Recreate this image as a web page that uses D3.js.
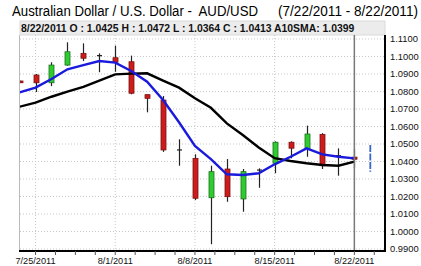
<!DOCTYPE html>
<html>
<head>
<meta charset="utf-8">
<script src="https://cdn.jsdelivr.net/npm/d3@7"></script>
<style>
  body { margin: 0; background: #fff; }
  svg { display: block; font-family: "Liberation Sans", Arial, sans-serif; }
  text { white-space: pre; }
</style>
</head>
<body>
<script>
const width = 421;
const height = 266;

// trading days, 7/22 .. 8/23 (last one only has the blue marker)
const dates = ["7/22/2011", "7/25/2011", "7/26/2011", "7/27/2011", "7/28/2011", "7/29/2011",
  "8/1/2011", "8/2/2011", "8/3/2011", "8/4/2011", "8/5/2011",
  "8/8/2011", "8/9/2011", "8/10/2011", "8/11/2011", "8/12/2011",
  "8/15/2011", "8/16/2011", "8/17/2011", "8/18/2011", "8/19/2011",
  "8/22/2011", "8/23/2011"];

const opens  = [1.0860, 1.0894, 1.0850, 1.0951, 1.1018, 1.1005, 1.0993, 1.0970, 1.0782, 1.0751, 1.0466,
  1.0418, 1.0193, 1.0357, 1.0186, 1.0351, 1.0390, 1.0510, 1.0475, 1.0555, 1.0433, 1.0425];
const highs  = [1.0862, 1.0900, 1.0967, 1.1081, 1.1075, 1.1018, 1.1062, 1.1005, 1.0782, 1.0774, 1.0527,
  1.0441, 1.0376, 1.0414, 1.0357, 1.0361, 1.0515, 1.0515, 1.0605, 1.0562, 1.0475, 1.0472];
const lows   = [1.0848, 1.0797, 1.0831, 1.0947, 1.0974, 1.0910, 1.0913, 1.0784, 1.0681, 1.0455, 1.0376,
  1.0180, 0.9927, 1.0170, 1.0113, 1.0250, 1.0333, 1.0418, 1.0427, 1.0357, 1.0319, 1.0364];
const closes = [1.0850, 1.0850, 1.0951, 1.1027, 1.0990, 1.1005, 1.0967, 1.0790, 1.0761, 1.0466, 1.0466,
  1.0190, 1.0342, 1.0199, 1.0342, 1.0351, 1.0510, 1.0476, 1.0557, 1.0376, 1.0433, 1.0413];

// moving averages
const smaBlack = [1.0713, 1.0736, 1.0770, 1.0799, 1.0827, 1.0862, 1.0898, 1.0902, 1.0904, 1.0862, 1.0822,
  1.0761, 1.0707, 1.0618, 1.0551, 1.0480, 1.0419, 1.0403, 1.0390, 1.0380, 1.0376, 1.0399];
const smaBlue  = [1.0795, 1.0822, 1.0871, 1.0927, 1.0951, 1.0974, 1.0965, 1.0917, 1.0856, 1.0751, 1.0624,
  1.0489, 1.0414, 1.0327, 1.0323, 1.0333, 1.0384, 1.0427, 1.0475, 1.0441, 1.0427, 1.0418];

// marker shown after the last bar
const nextRange = [1.0341, 1.0494];

const yTicks = [0.99, 1.00, 1.01, 1.02, 1.03, 1.04, 1.05, 1.06, 1.07, 1.08, 1.09, 1.10, 1.11];
const labelDays = ["7/25/2011", "8/1/2011", "8/8/2011", "8/15/2011", "8/22/2011"];

const bars = opens.map((o, i) => ({ i, o, h: highs[i], l: lows[i], c: closes[i] }));

const x = d3.scaleLinear()
  .domain([0, dates.length - 1])
  .range([19.6, 370.3]);

const y = d3.scaleLinear()
  .domain([0.99, 1.11])
  .range([249, 39]);

const plotLeft = 20, plotRight = 385, plotTop = 35, plotBottom = 251;

const svg = d3.select("body")
  .append("svg")
  .attr("width", width)
  .attr("height", height);

// title
svg.append("text")
  .attr("x", 12)
  .attr("y", 16)
  .attr("font-size", 14)
  .attr("fill", "#000")
  .attr("textLength", 246)
  .attr("lengthAdjust", "spacingAndGlyphs")
  .text("Australian Dollar / U.S. Dollar -  AUD/USD");

svg.append("text")
  .attr("x", 278)
  .attr("y", 16)
  .attr("font-size", 14)
  .attr("fill", "#000")
  .attr("textLength", 140)
  .attr("lengthAdjust", "spacingAndGlyphs")
  .text("(7/22/2011 - 8/22/2011)");

// info strip
svg.append("rect")
  .attr("x", plotLeft)
  .attr("y", 21)
  .attr("width", plotRight - plotLeft)
  .attr("height", 14)
  .attr("fill", "#ececec")
  .attr("stroke", "#dadada");

const last = bars.length - 1;
svg.append("text")
  .attr("x", 21)
  .attr("y", 31.5)
  .attr("font-size", 10.4)
  .attr("font-weight", "bold")
  .attr("fill", "#111")
  .text(`${dates[last]} O : ${opens[last].toFixed(4)} H : ${highs[last].toFixed(4)} L : ${lows[last].toFixed(4)} C : ${closes[last].toFixed(4)} A10SMA: ${smaBlack[last].toFixed(4)}`);

// grid
svg.append("g")
  .selectAll("line")
  .data(yTicks)
  .join("line")
  .attr("x1", plotLeft)
  .attr("x2", plotRight)
  .attr("y1", d => y(d))
  .attr("y2", d => y(d))
  .attr("stroke", "#c8c8c8")
  .attr("stroke-dasharray", "1,2");

svg.append("g")
  .selectAll("line")
  .data(labelDays)
  .join("line")
  .attr("x1", d => x(dates.indexOf(d)))
  .attr("x2", d => x(dates.indexOf(d)))
  .attr("y1", plotTop)
  .attr("y2", plotBottom)
  .attr("stroke", "#c8c8c8")
  .attr("stroke-dasharray", "1,2");

svg.append("line")
  .attr("x1", 19.5).attr("x2", 19.5)
  .attr("y1", plotTop).attr("y2", plotBottom)
  .attr("stroke", "#bbb");

svg.append("clipPath")
  .attr("id", "plot")
  .append("rect")
  .attr("x", plotLeft)
  .attr("y", plotTop)
  .attr("width", plotRight - plotLeft)
  .attr("height", plotBottom - plotTop);

const plot = svg.append("g").attr("clip-path", "url(#plot)");

// candles
const candle = plot.append("g")
  .selectAll("g")
  .data(bars)
  .join("g");

candle.append("line")
  .attr("x1", d => Math.round(x(d.i)) + 0.5)
  .attr("x2", d => Math.round(x(d.i)) + 0.5)
  .attr("y1", d => y(d.h))
  .attr("y2", d => y(d.l))
  .attr("stroke", "#222")
  .attr("stroke-width", 1.2);

candle.filter(d => d.o !== d.c)
  .append("rect")
  .attr("x", d => Math.round(x(d.i)) - 2)
  .attr("y", d => y(Math.max(d.o, d.c)))
  .attr("width", 5)
  .attr("height", d => Math.max(1.5, Math.abs(y(d.o) - y(d.c))))
  .attr("fill", d => d.c > d.o ? "#2fcc2f" : "#cc1c1c")
  .attr("stroke", d => d.c > d.o ? "#1d6e1d" : "#7c1212")
  .attr("stroke-width", 0.8);

candle.filter(d => d.o === d.c)
  .append("line")
  .attr("x1", d => Math.round(x(d.i)) - 2)
  .attr("x2", d => Math.round(x(d.i)) + 3)
  .attr("y1", d => y(d.o))
  .attr("y2", d => y(d.o))
  .attr("stroke", "#222")
  .attr("stroke-width", 1.2);

// moving average lines
const line = d3.line()
  .x((d, i) => x(i))
  .y(d => y(d));

plot.append("path")
  .datum(smaBlack)
  .attr("fill", "none")
  .attr("stroke", "#000")
  .attr("stroke-width", 2.4)
  .attr("d", line);

plot.append("path")
  .datum(smaBlue)
  .attr("fill", "none")
  .attr("stroke", "#1a1adc")
  .attr("stroke-width", 2.4)
  .attr("d", line);

// cursor on the last bar
svg.append("line")
  .attr("x1", x(last))
  .attr("x2", x(last))
  .attr("y1", plotTop)
  .attr("y2", plotBottom)
  .attr("stroke", "#7a7a7a")
  .attr("stroke-width", 1.5);

// next-day marker
svg.append("line")
  .attr("x1", x(dates.length - 1))
  .attr("x2", x(dates.length - 1))
  .attr("y1", y(nextRange[1]))
  .attr("y2", y(nextRange[0]))
  .attr("stroke", "#3a66cc")
  .attr("stroke-width", 1.8)
  .attr("stroke-dasharray", "7,1.5");

// axes frame
svg.append("line")
  .attr("x1", 19).attr("x2", plotRight + 1)
  .attr("y1", plotBottom).attr("y2", plotBottom)
  .attr("stroke", "#000")
  .attr("stroke-width", 2);

svg.append("line")
  .attr("x1", plotRight).attr("x2", plotRight)
  .attr("y1", plotTop).attr("y2", plotBottom)
  .attr("stroke", "#000")
  .attr("stroke-width", 2);

// small ticks under the time axis
svg.append("g")
  .selectAll("line")
  .data(d3.range(1, dates.length, 1.25))
  .join("line")
  .attr("x1", d => x(d))
  .attr("x2", d => x(d))
  .attr("y1", plotBottom)
  .attr("y2", plotBottom + 4)
  .attr("stroke", "#555");

// y labels
svg.append("g")
  .selectAll("text")
  .data(yTicks)
  .join("text")
  .attr("x", 390)
  .attr("y", d => y(d))
  .attr("dy", "0.35em")
  .attr("font-size", 9.4)
  .attr("fill", "#111")
  .text(d => d.toFixed(4));

// x labels
svg.append("g")
  .selectAll("text")
  .data(labelDays)
  .join("text")
  .attr("x", d => x(dates.indexOf(d)))
  .attr("y", 264)
  .attr("text-anchor", "middle")
  .attr("font-size", 9.2)
  .attr("fill", "#111")
  .text(d => d);
</script>
</body>
</html>
